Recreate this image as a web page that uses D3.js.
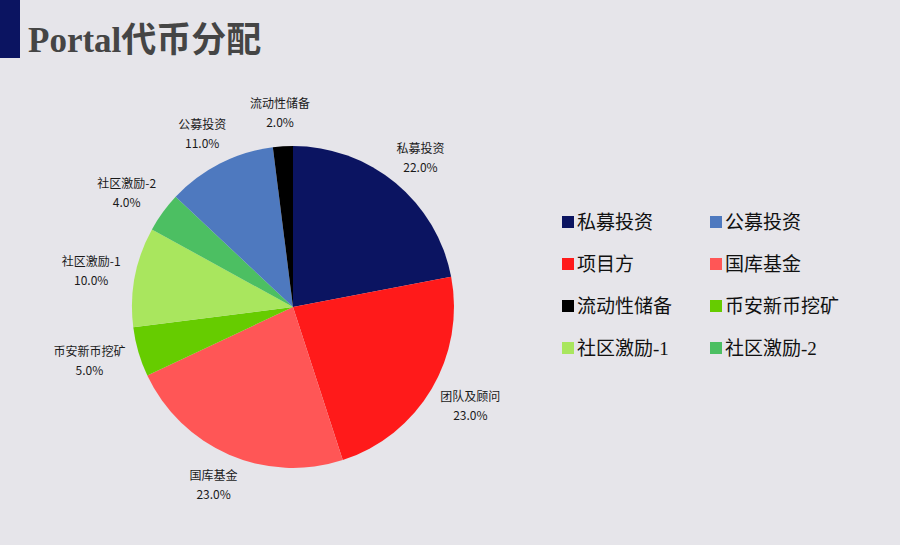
<!DOCTYPE html>
<html>
<head>
<meta charset="utf-8">
<script src="https://cdn.jsdelivr.net/npm/d3@7"></script>
<style>
  body { margin: 0; background: #e6e5ea; }
  svg { display: block; }
</style>
</head>
<body>
<div id="chart"></div>
<script>
// width & height
var svgWidth = 900;
var svgHeight = 545;

// data (clockwise from 12 o'clock)
var sliceNames = ["私募投资", "团队及顾问", "国库基金", "币安新币挖矿", "社区激励-1", "社区激励-2", "公募投资", "流动性储备"];
var sliceValues = [22, 23, 23, 5, 10, 4, 11, 2];
var sliceColors = ["#0b1461", "#ff1a1a", "#ff5656", "#66cc00", "#a9e65e", "#4cbf62", "#4e79bf", "#000000"];

// legend (as shown in the picture)
var legendNames = ["私募投资", "公募投资", "项目方", "国库基金", "流动性储备", "币安新币挖矿", "社区激励-1", "社区激励-2"];
var legendColors = ["#0b1461", "#4e79bf", "#ff1a1a", "#ff5656", "#000000", "#66cc00", "#a9e65e", "#4cbf62"];

var svg = d3.select("#chart")
    .append("svg")
    .attr("width", svgWidth)
    .attr("height", svgHeight);

svg.append("rect")
    .attr("width", svgWidth)
    .attr("height", svgHeight)
    .attr("fill", "#e6e5ea");

// title
svg.append("rect")
    .attr("x", 0)
    .attr("y", 0)
    .attr("width", 20)
    .attr("height", 58)
    .attr("fill", "#0b1461");

svg.append("text")
    .attr("x", 28)
    .attr("y", 52)
    .attr("font-family", "'Liberation Serif', 'Noto Sans CJK SC', serif")
    .attr("font-weight", "bold")
    .attr("font-size", 35)
    .attr("fill", "#454545")
    .text("Portal代币分配");

// pie
var cx = 293, cy = 307, radius = 161;

var pie = d3.pie().sort(null).value(d => d);
var arcs = pie(sliceValues);
var arc = d3.arc().innerRadius(0).outerRadius(radius);
var anchorR = radius + 15;
var anchorArc = d3.arc().innerRadius(anchorR).outerRadius(anchorR);

var pieGroup = svg.append("g")
    .attr("transform", `translate(${cx}, ${cy})`);

pieGroup.selectAll("path")
    .data(arcs)
    .enter()
    .append("path")
    .attr("d", arc)
    .attr("fill", (d, i) => sliceColors[i]);

// labels outside the pie: box pushed outward from an anchor point on the mid angle
var labels = pieGroup.selectAll(".lbl")
    .data(arcs)
    .enter()
    .append("text")
    .attr("class", "lbl")
    .attr("text-anchor", "middle")
    .attr("font-family", "'Noto Sans CJK SC', sans-serif")
    .attr("font-size", 12)
    .attr("fill", "#1a1a1a");

labels.append("tspan")
    .attr("x", 0)
    .attr("y", -5)
    .text((d, i) => sliceNames[i]);

labels.append("tspan")
    .attr("x", 0)
    .attr("y", 14)
    .text(d => d.value.toFixed(1) + "%");

labels.attr("transform", function(d) {
    var a = (d.startAngle + d.endAngle) / 2;
    var p = anchorArc.centroid(d);
    var w = this.getBBox().width;
    var h = 36;
    var x = p[0] + Math.sin(a) * w / 2;
    var y = p[1] - Math.cos(a) * h / 2;
    return `translate(${x}, ${y})`;
});

// legend
var legend = svg.append("g")
    .attr("transform", "translate(562, 222)");

var items = legend.selectAll("g")
    .data(legendNames)
    .enter()
    .append("g")
    .attr("transform", (d, i) => `translate(${(i % 2) * 148}, ${Math.floor(i / 2) * 42})`);

items.append("rect")
    .attr("x", 0)
    .attr("y", -6)
    .attr("width", 12)
    .attr("height", 12)
    .attr("fill", (d, i) => legendColors[i]);

items.append("text")
    .attr("x", 15)
    .attr("y", 7)
    .attr("font-family", "'Liberation Serif', 'Noto Sans CJK SC', serif")
    .attr("font-size", 19)
    .attr("fill", "#111")
    .text(d => d);
</script>
</body>
</html>
